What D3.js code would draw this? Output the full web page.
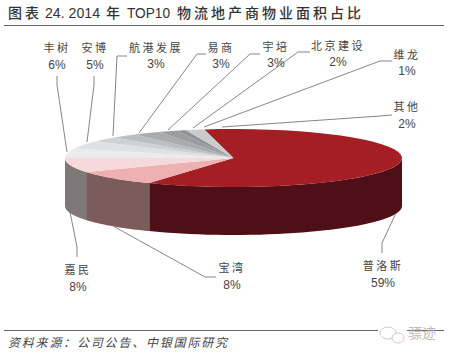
<!DOCTYPE html>
<html>
<head>
<meta charset="utf-8">
<script src="https://cdn.jsdelivr.net/npm/d3@7"></script>
<style>
  html, body { margin: 0; padding: 0; background: #fff; }
  svg { display: block; }
  text { font-family: "Noto Sans CJK SC", sans-serif; }
</style>
</head>
<body>
<div id="chart"></div>
<script>
// Values as labelled on the chart, clockwise from the top
const names = ["普洛斯", "宝湾", "嘉民", "丰树", "安博", "航港发展", "易商", "宇培", "北京建设", "维龙", "其他"];
const shares = [59, 8, 8, 6, 5, 3, 3, 3, 2, 1, 2];

// Slice colours
const topColors = ["#a51e23", "#eeb0b2", "#f6d9da", "#e9ebed", "#dfe1e3", "#cfd1d3", "#bcbfc1", "#a9acae", "#9a9da0", "#8e9194", "#c9cbcd"];
const sideColors = ["#4f0f16", "#7c5c5a", "#7f7878", "#777777", "#777777", "#777777", "#777777", "#777777", "#777777", "#777777", "#777777"];

// Label placement, same order as names: centre x, name y, percent y
const labelPos = [[383, 270, 287], [232, 272, 289], [78, 274, 291], [57, 52, 69], [95, 52, 69], [156, 52, 68],
    [221, 52, 68], [276, 51, 67], [338, 50, 66], [407, 59, 75], [407, 111, 128]];
// Leader lines: label end, elbow, slice end
const leaders = [
    [[382, 253], [382, 243], [396, 213]],
    [[216, 277], [205, 277], [113, 226]],
    [[77, 257], [77, 247], [70, 212]],
    [[57, 76], [57, 85], [67, 152]],
    [[94, 76], [94, 85], [87, 142]],
    [[127, 56], [117, 56], [113, 136]],
    [[206, 54], [197, 54], [139, 133]],
    [[260, 54], [250, 54], [168, 130]],
    [[310, 52], [298, 52], [193, 128]],
    [[392, 61], [380, 61], [204, 127]],
    [[392, 115], [380, 116], [222, 127]]
];

const width = 450, height = 355;
const cx = 233.5, cy = 158, rx = 168.5, ry = 29, depth = 48;

const svg = d3.select("#chart").append("svg")
    .attr("width", width)
    .attr("height", height);

// Title pieces, the latin runs are squeezed to a fixed length
const titleParts = [
    { x: 8, t: "图表", cjk: true },
    { x: 45, t: "24. 2014", cjk: false, len: 55 },
    { x: 106, t: "年", cjk: true },
    { x: 127, t: "TOP10", cjk: false, len: 43 },
    { x: 177, t: "物流地产商物业面积占比", cjk: true }
];
svg.selectAll("text.title").data(titleParts).enter().append("text")
    .attr("class", "title")
    .attr("x", d => d.x)
    .attr("y", 18)
    .attr("fill", "#333")
    .attr("font-size", d => d.cjk ? 14 : 15)
    .attr("font-weight", 500)
    .attr("textLength", d => d.len || null)
    .attr("lengthAdjust", d => d.len ? "spacingAndGlyphs" : null)
    .style("font-family", d => d.cjk ? null : '"Liberation Sans"')
    .style("letter-spacing", d => d.cjk ? "3px" : null)
    .text(d => d.t);

// Rules
svg.append("line").attr("x1", 4).attr("x2", 444).attr("y1", 25.5).attr("y2", 25.5)
    .attr("stroke", "#666").attr("stroke-width", 1);
[[4, 378], [407, 444]].forEach(r => {
    svg.append("line").attr("x1", r[0]).attr("x2", r[1]).attr("y1", 330.5).attr("y2", 330.5)
        .attr("stroke", "#666").attr("stroke-width", 1);
});

// Source note
svg.append("text").attr("x", 8).attr("y", 347)
    .attr("font-size", 12).attr("font-style", "italic").attr("fill", "#444")
    .style("letter-spacing", "1.8px")
    .text("资料来源：公司公告、中银国际研究");

// Watermark
[[388, 333, 8, 6], [398, 338, 6, 5]].forEach(e => {
    svg.append("ellipse").attr("cx", e[0]).attr("cy", e[1]).attr("rx", e[2]).attr("ry", e[3])
        .attr("fill", "#fff").attr("stroke", "#ccc").attr("stroke-width", 1);
});
svg.append("text").attr("x", 408).attr("y", 338).attr("font-size", 14).attr("fill", "#bbb").text("骠迹");

// The pie is drawn in perspective, so the shares do not map evenly onto screen angles
const toRad = Math.PI / 180;
const angle = d3.scaleLinear()
    .domain([0, 59, 67, 75, 100])
    .range([-10 * toRad, 210 * toRad, 241 * toRad, 270 * toRad, 350 * toRad]);

let total = 0;
const slices = shares.map((v, i) => {
    const s = { i, start: angle(total), end: angle(total + v) };
    total += v;
    return s;
});

const pt = (a, dy = 0) => [cx + rx * Math.sin(a), cy - ry * Math.cos(a) + dy];
const rim = (a0, a1, dy = 0) => d3.range(41).map(k => pt(a0 + (a1 - a0) * k / 40, dy));

// Side wall, only the front half of the rim shows
svg.selectAll("path.side")
    .data(slices.filter(d => d.end > 90 * toRad && d.start < 270 * toRad))
    .enter().append("path")
    .attr("class", "side")
    .attr("d", d => {
        const a0 = Math.max(d.start, 90 * toRad), a1 = Math.min(d.end, 270 * toRad);
        return d3.line()(rim(a0, a1).concat(rim(a1, a0, depth))) + "Z";
    })
    .attr("fill", d => sideColors[d.i]);

// Top face
svg.selectAll("path.top")
    .data(slices)
    .enter().append("path")
    .attr("class", "top")
    .attr("d", d => d3.line()([[cx, cy]].concat(rim(d.start, d.end))) + "Z")
    .attr("fill", d => topColors[d.i]);

// Leader lines
svg.selectAll("path.leader")
    .data(leaders)
    .enter().append("path")
    .attr("class", "leader")
    .attr("d", d3.line())
    .attr("fill", "none")
    .attr("stroke", "#666")
    .attr("stroke-width", 0.8);

// Labels
const labels = svg.selectAll("g.label")
    .data(names)
    .enter().append("g")
    .attr("class", "label")
    .attr("text-anchor", "middle");
labels.append("text")
    .attr("x", (d, i) => labelPos[i][0])
    .attr("y", (d, i) => labelPos[i][1])
    .attr("font-size", 11)
    .attr("fill", "#444")
    .style("letter-spacing", "2.5px")
    .text(d => d);
labels.append("text")
    .attr("x", (d, i) => labelPos[i][0])
    .attr("y", (d, i) => labelPos[i][2])
    .attr("font-size", 12)
    .attr("fill", "#444")
    .style("font-family", '"Liberation Sans"')
    .text((d, i) => shares[i] + "%");
</script>
</body>
</html>
